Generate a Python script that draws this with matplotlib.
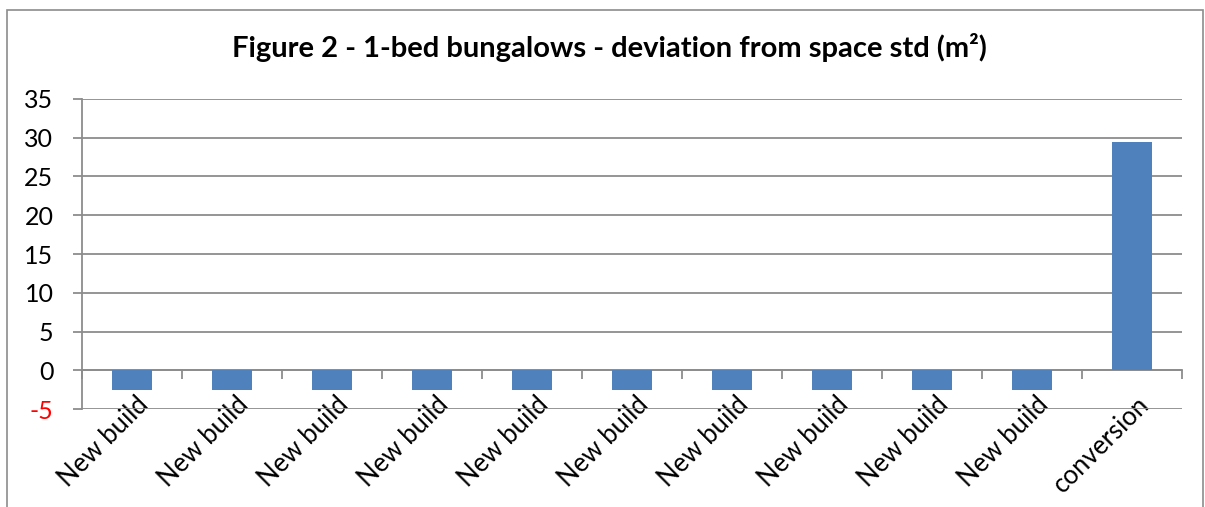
import numpy as np
import matplotlib.pyplot as plt
from matplotlib.transforms import ScaledTranslation

categories = ['New build'] * 10 + ['conversion']
values = [-2.5] * 10 + [29.5]
y_ticks = [-5, 0, 5, 10, 15, 20, 25, 30, 35]

plt.rcParams['font.family'] = ['Lato', 'DejaVu Sans']
grey = '#8c8c8c'

fig = plt.figure(figsize=(12.05, 5.07), dpi=100)
ax = fig.add_axes([0.068, 0.193, 0.913, 0.612])

x = np.arange(len(categories))
ax.bar(x, values, width=0.4, color='#4f81bd', zorder=3)

ymin, ymax = y_ticks[0], y_ticks[-1]
ax.set_ylim(ymin, ymax)
ax.set_xlim(-0.5, len(categories) - 0.5)
ax.set_yticks(y_ticks)
ax.set_yticklabels([str(v) for v in y_ticks], fontsize=18)
ax.get_yticklabels()[0].set_color('red')
ax.yaxis.grid(True, color=grey, linewidth=1.3, zorder=0)
ax.tick_params(axis='y', length=6.5, width=1.3, color=grey, pad=14)

ax.set_xticks(x)
ax.set_xticklabels(categories, fontsize=18.5, rotation=45, ha='right',
                   va='center', rotation_mode='anchor')
ax.tick_params(axis='x', length=0, pad=0)
# labels start a little above the bottom gridline, right of the bar centre
shift = ScaledTranslation(13 / 100, 8 / 100, fig.dpi_scale_trans)
for lbl in ax.get_xticklabels():
    lbl.set_transform(lbl.get_transform() + shift)

for side in ['top', 'right', 'bottom']:
    ax.spines[side].set_visible(False)
ax.spines['left'].set_color(grey)
ax.spines['left'].set_linewidth(1.3)

# category axis sits on the zero line with ticks between categories
zero_pos = (0 - ymin) / (ymax - ymin)
sec = ax.secondary_xaxis(zero_pos)
sec.set_xticks(np.arange(len(categories) + 1) - 0.5)
sec.set_xticklabels([])
sec.tick_params(length=6.5, width=1.3, color=grey)
sec.spines['bottom'].set_color(grey)
sec.spines['bottom'].set_linewidth(1.3)

fig.text(0.506, 0.907, 'Figure 2 - 1-bed bungalows - deviation from space std (m²)',
         ha='center', va='center', fontsize=21, fontweight='bold')

fig.patches.append(plt.Rectangle((0.006, -0.02), 0.992, 1.0, transform=fig.transFigure,
                                 fill=False, edgecolor=grey, linewidth=1.2))

fig.savefig('out.png', dpi=100)
